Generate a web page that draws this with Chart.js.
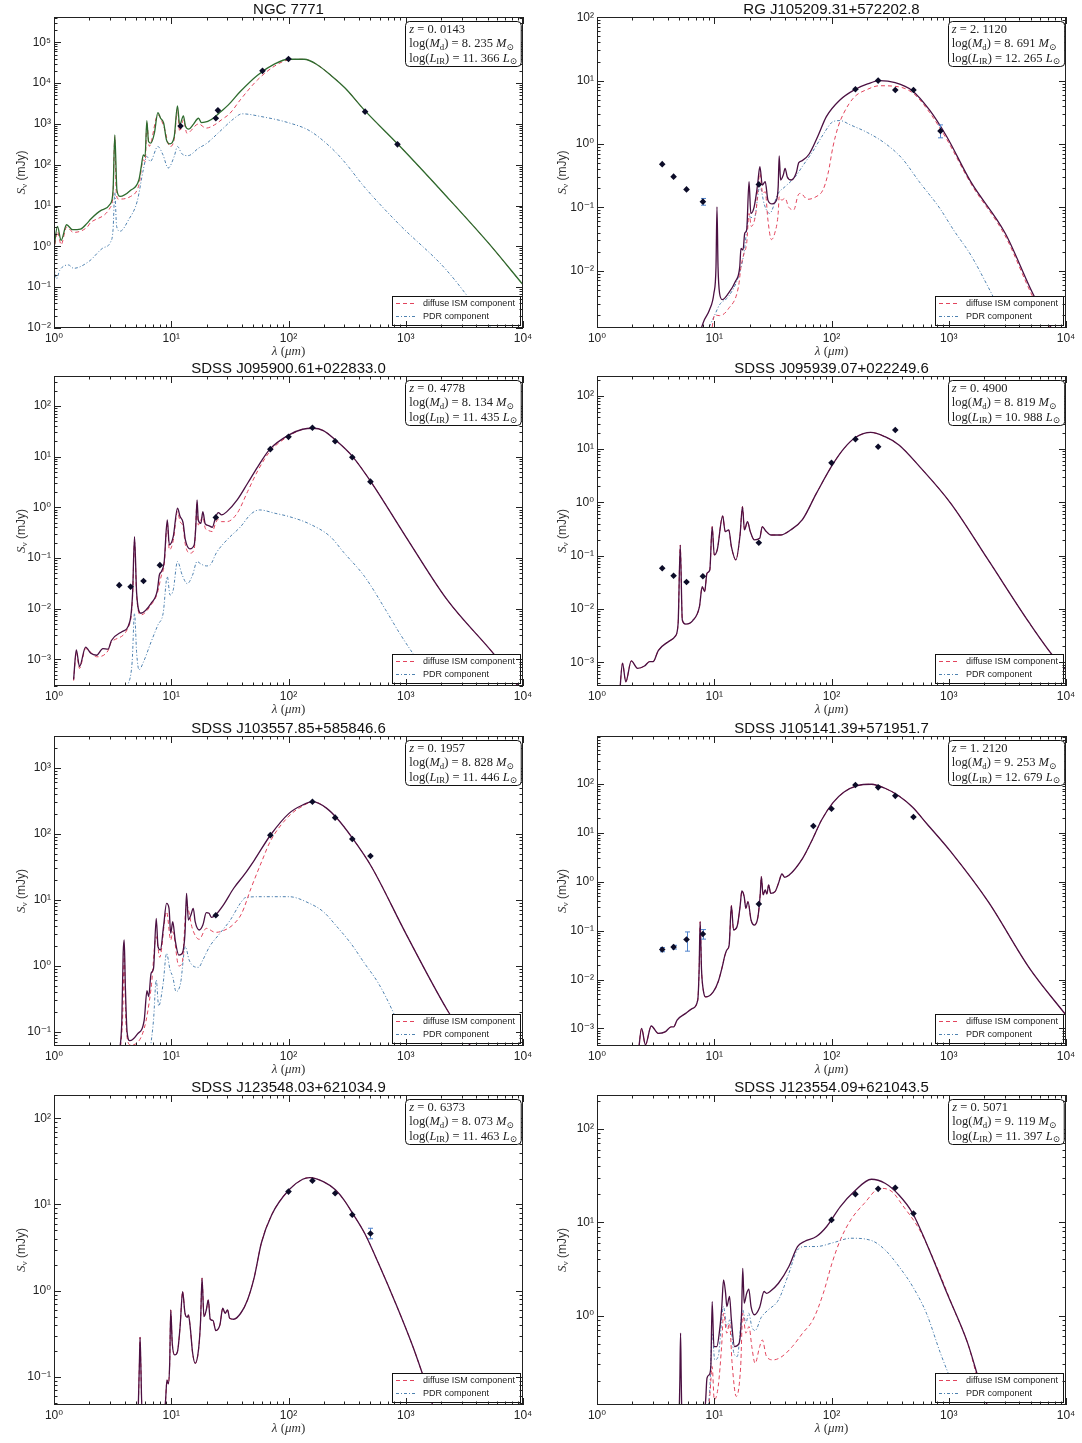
<!DOCTYPE html>
<html>
<head>
<meta charset="utf-8">
<script src="https://cdn.jsdelivr.net/npm/chart.js@4.4.1/dist/chart.umd.min.js"></script>
<style>
  body { margin: 0; background: #fff; width: 1082px; height: 1443px; position: relative; overflow: hidden; }
  canvas { position: absolute; }
</style>
</head>
<body>
<script>
// ---- data: [wavelength (um), flux (mJy)] ----
const p1Total = [[1.0,0.91],[1.07,3.08],[1.15,1.40],[1.28,3.39],[1.44,2.56],[1.68,2.65],[1.92,3.72],[2.06,4.67],[2.52,7.6],[3.03,11.1],[3.19,24],[3.30,540],[3.44,24],[3.66,16.7],[4.48,23.4],[5.30,42.8],[5.56,94],[5.78,175],[5.98,159],[6.19,1210],[6.40,371],[6.71,338],[7.18,593],[7.69,1900],[8.11,1380],[8.62,1040],[9.10,407],[9.73,325],[10.6,490],[11.3,2770],[11.8,948],[12.7,1570],[13.2,897],[14.1,743],[15.3,948],[17.1,1380],[18.1,1080],[20.5,1150],[23.4,1460],[25.9,1900],[30.7,2930],[38.8,6210],[54.4,15600],[76.3,29500],[100,38400],[136,38400],[177,27900],[233,15000],[305,7480],[442,2210],[867,308],[2230,16.7],[5020,1.25],[10000,0.115]];
const p1Ism = [[1.0,0.76],[1.07,2.3],[1.15,1.1],[1.28,2.97],[1.47,2.2],[1.92,2.97],[2.06,3.9],[3.03,9.1],[3.19,20],[3.30,490],[3.40,20],[3.54,14.4],[4.48,16.6],[5.30,32],[5.78,132],[6.00,120],[6.19,1040],[6.49,283],[7.69,1660],[8.62,890],[9.73,280],[10.6,420],[11.3,2290],[11.8,650],[12.7,1260],[13.6,590],[17.1,1000],[19.8,790],[23.4,950],[26.8,1260],[31.7,1820],[38.8,3890],[54.4,12000],[76.3,26300],[100,37000],[136,38400],[177,27900],[233,15000],[305,7480],[442,2210],[867,308],[2230,16.7],[5020,1.25],[10000,0.115]];
const p1Pdr = [[1.0,0.32],[1.05,0.16],[1.12,0.26],[1.33,0.35],[1.47,0.29],[1.99,0.43],[2.61,0.91],[3.03,1.26],[3.19,2.6],[3.30,21],[3.42,3.1],[3.66,2.35],[4.33,4.5],[5.12,12.6],[5.78,76],[6.19,160],[6.62,120],[7.69,280],[8.5,175],[9.41,83],[10.6,160],[11.3,280],[12.3,187],[13.9,167],[17.1,255],[19.8,325],[25.9,650],[33.9,1320],[40.2,1770],[58.2,1520],[100,1070],[150,690],[225,280],[294,126],[442,29],[867,3.6],[2230,0.26],[5370,0.01]];
const p1Obs = [[12,890],[24,1380],[25,2150],[60,20000],[100,39000],[450,2000],[850,316]];
const p1Err = [];

const p2Total = [[7.33,9.1e-4],[8.22,1.66e-3],[9.1,2.4e-3],[9.93,4.4e-3],[10.35,0.0115],[10.55,0.102],[10.77,0.0115],[11.1,4.4e-3],[11.7,3.5e-3],[13.2,4.4e-3],[15.1,6.7e-3],[16.5,0.0115],[16.9,0.0224],[17.6,0.0213],[18.2,0.039],[18.9,0.044],[19.8,0.254],[20.5,0.08],[21.9,0.102],[23.4,0.225],[24.5,0.44],[25.7,0.225],[27.2,0.254],[28.7,0.13],[31.1,0.113],[34,0.13],[35.1,0.212],[35.8,0.646],[36.8,0.27],[38.8,0.324],[40.2,0.413],[41.9,0.305],[45.4,0.27],[49.9,0.344],[52.6,0.507],[56.3,0.546],[64.5,0.695],[76.3,1.31],[90.4,2.7],[118,4.95],[160,7.3],[203,8.85],[257,10],[349,9.3],[489,6.95],[685,3.44],[960,1.31],[1540,0.254],[3030,0.039],[5200,4.4e-3],[7530,1.23e-3],[8900,8.5e-4]];
const p2Ism = [[9.4,1.0e-3],[10.1,2.0e-3],[11.1,1.95e-3],[13.2,2.5e-3],[16.1,5.6e-3],[16.9,0.0115],[17.9,0.0186],[18.9,0.027],[19.8,0.08],[20.7,0.05],[22.6,0.08],[24.5,0.344],[25.9,0.166],[27.2,0.177],[28.7,0.063],[30.7,0.031],[32.8,0.039],[35.1,0.08],[35.8,0.147],[37.6,0.13],[40.2,0.139],[43,0.102],[47.6,0.091],[52,0.157],[54.5,0.166],[62.3,0.134],[73.8,0.147],[84.5,0.188],[93.5,0.344],[103,0.91],[114,1.88],[127,3.05],[155,5.4],[203,7.3],[257,8.3],[373,8.0],[506,6.15],[685,3.16],[960,1.19],[1540,0.239],[3030,0.0354],[5200,3.9e-3],[7530,1.15e-3]];
const p2Pdr = [[8.5,1.0e-3],[10.1,2.0e-3],[11.1,2.9e-3],[13.2,3.9e-3],[16.1,8.1e-3],[17.9,0.0186],[19.8,0.071],[21.9,0.067],[24.5,0.212],[26.8,0.109],[29.6,0.08],[35.1,0.166],[40.2,0.212],[49.2,0.305],[56.3,0.44],[69,0.757],[84.5,1.39],[103,2.25],[118,2.34],[145,2.0],[203,1.51],[285,1.03],[399,0.594],[560,0.254],[839,0.0964],[1100,0.0438],[1540,0.0177],[2160,5.6e-3],[2640,2.7e-3]];
const p2Obs = [[3.6,0.48],[4.5,0.305],[5.8,0.192],[8.0,0.123],[24,0.23],[160,7.3],[250,10],[350,7.1],[500,7.1],[850,1.6]];
const p2Err = [[8.0,0.108,0.138],[850,1.25,2.0]];

const p3Total = [[1.47,4.0e-4],[1.55,1.53e-3],[1.65,7.2e-4],[1.86,1.73e-3],[2.06,1.31e-3],[2.31,1.2e-3],[2.61,1.62e-3],[2.89,1.58e-3],[3.09,2.35e-3],[3.79,3.5e-3],[4.43,5.5e-3],[4.68,0.02],[4.86,0.264],[5.07,0.02],[5.5,8.1e-3],[6.73,0.0127],[7.6,0.0226],[7.92,0.046],[8.25,0.054],[8.71,0.085],[9.25,0.56],[9.63,0.181],[10.4,0.264],[11.3,0.955],[11.9,0.655],[12.6,0.5],[13.2,0.226],[14.4,0.151],[15.7,0.181],[16.2,0.415],[16.6,1.4],[17.0,0.56],[17.9,0.483],[18.6,0.82],[19.5,0.469],[20.8,0.435],[22.4,0.403],[24.0,0.655],[25.2,0.785],[26.9,0.706],[29.8,0.82],[36.5,1.4],[44.8,2.98],[54.8,6.35],[69.4,14],[101,26.8],[132,34.6],[162,36.2],[198,32.6],[251,21.3],[352,10],[510,3.07],[1000,0.264],[2260,0.0148],[5820,1.16e-3],[10000,2.2e-4]];
const p3Ism = [[1.47,3.8e-4],[1.55,1.35e-3],[1.65,6.6e-4],[1.86,1.62e-3],[2.31,1.12e-3],[2.89,1.48e-3],[3.09,2.2e-3],[4.43,5.1e-3],[4.68,0.017],[4.86,0.21],[5.07,0.0174],[5.5,7.5e-3],[6.73,0.0118],[7.6,0.02],[8.25,0.046],[8.71,0.073],[9.25,0.483],[9.63,0.144],[10.4,0.22],[11.3,0.82],[11.9,0.52],[12.6,0.415],[13.2,0.181],[14.4,0.124],[15.7,0.148],[16.6,1.16],[17.0,0.448],[18.6,0.655],[19.5,0.385],[20.8,0.347],[22.4,0.331],[24.0,0.5],[25.2,0.58],[26.9,0.52],[29.8,0.52],[36.5,0.76],[44.8,2.04],[54.8,5.3],[69.4,12.6],[101,25.6],[132,34.6],[162,36.2],[198,32.6],[251,21.3],[352,10],[510,3.07],[1000,0.264],[2260,0.0148],[5820,1.16e-3],[10000,2.2e-4]];
const p3Pdr = [[4.2,2.7e-4],[4.64,8.9e-4],[4.86,8.1e-3],[5.07,1.32e-3],[5.31,6.2e-4],[5.8,8.9e-4],[6.73,2.2e-3],[7.71,4.8e-3],[8.53,8.1e-3],[9.25,0.043],[9.77,0.0185],[10.4,0.0234],[11.3,0.085],[12.4,0.046],[13.7,0.031],[15.2,0.046],[16.6,0.085],[17.9,0.076],[19.9,0.0695],[21.5,0.0728],[24.3,0.127],[29.8,0.226],[39.1,0.415],[47.9,0.738],[56.6,0.885],[76.8,0.76],[101,0.655],[151,0.469],[227,0.264],[297,0.127],[446,0.0428],[669,9.7e-3],[877,3.4e-3],[1150,1.31e-3],[1360,7.8e-4]];
const p3Obs = [[3.6,0.029],[4.5,0.027],[5.8,0.035],[8.0,0.072],[24,0.63],[70,14],[100,24.5],[160,37],[250,20],[350,9.7],[500,3.2]];
const p3Err = [];

const p4Total = [[1.56,2.6e-4],[1.65,9.6e-4],[1.76,4.3e-4],[1.96,1.06e-3],[2.22,7.7e-4],[2.54,8.5e-4],[2.81,1.03e-3],[3.01,1.03e-3],[3.33,1.66e-3],[4.07,2.44e-3],[4.66,3.1e-3],[4.92,5.4e-3],[5.13,0.158],[5.34,6.2e-3],[5.71,5.2e-3],[6.53,6.0e-3],[7.48,0.0111],[7.89,0.0262],[8.28,0.0211],[8.67,0.0467],[9.16,0.0538],[9.6,0.35],[10.0,0.103],[10.6,0.128],[11.8,0.555],[12.4,0.282],[13.3,0.303],[14.0,0.148],[15.3,0.083],[16.6,0.244],[17.4,0.83],[18.1,0.303],[19.2,0.434],[20.3,0.282],[22.0,0.197],[24.4,0.211],[25.7,0.35],[27.4,0.294],[30.5,0.244],[36.6,0.244],[44.8,0.303],[56.7,0.48],[74.3,1.47],[103,5.24],[128,10.3],[161,16.6],[216,20.5],[286,17],[376,11.9],[564,4.67],[1040,0.957],[2170,0.083],[4890,5.4e-3],[7840,1.28e-3],[10000,7.2e-4]];
const p4Obs = [[3.6,0.058],[4.5,0.042],[5.8,0.032],[8.0,0.041],[24,0.174],[100,5.5],[160,15.3],[250,11],[350,22.7]];
const p4Err = [];

const p5Total = [[3.61,0.047],[3.79,0.15],[3.89,1.54],[3.97,2.45],[4.06,0.48],[4.2,0.1],[4.43,0.073],[5.14,0.092],[5.88,0.15],[6.21,0.418],[6.42,0.339],[6.73,0.766],[7.06,0.912],[7.45,5.2],[7.71,1.94],[8.08,1.73],[8.59,3.9],[9.12,8.8],[9.57,7.4],[9.9,3.09],[10.3,4.64],[10.8,2.45],[11.6,1.45],[12.4,1.54],[13.1,3.09],[13.5,12.5],[14.0,4.92],[14.7,5.86],[15.4,7.4],[16.0,4.64],[17.3,3.47],[18.6,4.13],[19.9,6.35],[21.0,6.21],[22.0,5.4],[23.8,5.86],[27.8,8.3],[34.1,14.9],[41.8,23.7],[51.2,39.9],[70.3,95.5],[101,203],[132,272],[162,305],[212,242],[259,171],[352,85],[510,31.6],[1000,3.09],[2260,0.213],[3750,0.053]];
const p5Ism = [[3.66,0.047],[3.86,0.19],[3.97,1.54],[4.08,0.19],[4.25,0.073],[4.49,0.063],[5.88,0.112],[6.73,0.454],[7.45,2.75],[7.97,1.34],[9.12,6.58],[9.9,2.45],[10.3,3.27],[11.6,0.99],[12.4,1.11],[13.5,8.3],[15.2,3.56],[17.3,2.51],[19.9,3.68],[23.8,3.2],[27.8,3.39],[34.1,4.27],[39.9,6.21],[47.9,14.9],[59.8,39.9],[70.3,78],[101,185],[132,262],[162,305],[212,242],[259,171],[352,85],[510,31.6],[1000,3.09],[2260,0.213],[3750,0.053]];
const p5Pdr = [[6.64,0.056],[7.06,0.15],[7.45,0.607],[7.81,0.245],[8.53,0.54],[9.12,1.54],[9.77,0.86],[10.3,0.68],[11.0,0.404],[12.0,0.54],[13.2,1.94],[14.2,1.22],[15.7,0.966],[17.1,0.944],[18.6,1.22],[21.2,1.94],[26.0,3.09],[31.9,4.92],[39.1,9.0],[43.2,10.8],[58.6,11.1],[101,11.1],[151,8.8],[198,6.58],[259,3.9],[340,2.18],[446,1.08],[585,0.54],[766,0.213],[906,0.106]];
const p5Obs = [[24,5.8],[70,95],[160,305],[250,175],[350,83],[500,46]];
const p5Err = [];

const p6Total = [[2.25,3.1e-4],[2.4,1.0e-3],[2.59,4.6e-4],[2.9,1.12e-3],[3.33,7.9e-4],[3.81,8.5e-4],[4.3,1.08e-3],[4.51,1.08e-3],[4.82,1.48e-3],[5.71,2.03e-3],[6.53,2.57e-3],[7.23,3.8e-3],[7.43,0.0156],[7.58,0.152],[7.79,0.0156],[8.11,5.6e-3],[8.45,4.4e-3],[9.8,5.6e-3],[10.8,9.0e-3],[11.8,0.0198],[12.2,0.0284],[12.8,0.0401],[13.4,0.0507],[14.0,0.324],[14.6,0.103],[15.7,0.124],[16.6,0.309],[17.2,0.646],[18.0,0.494],[18.6,0.286],[19.4,0.391],[20.6,0.165],[22.0,0.13],[23.6,0.193],[24.7,0.58],[25.2,1.27],[26.1,0.536],[27.2,0.678],[28.1,0.561],[29.1,0.857],[30.3,0.58],[33.0,0.627],[35.3,0.927],[37.8,1.44],[39.9,1.23],[43.3,1.35],[56.7,3.0],[69.5,7.73],[82.3,18.3],[103,41.5],[128,68.6],[167,92.5],[219,98.4],[286,81.5],[376,56.8],[492,33.4],[645,15.7],[1040,4.12],[2170,0.391],[4890,0.0169],[10000,1.87e-3]];
const p6Obs = [[3.6,0.041],[4.5,0.046],[5.8,0.066],[8.0,0.085],[24,0.35],[70,13.8],[100,31],[160,95],[250,85],[350,57],[500,21]];
const p6Err = [[3.6,0.037,0.045],[4.5,0.042,0.050],[5.8,0.038,0.094],[8.0,0.067,0.105]];

const p7Total = [[5.21,0.035],[5.35,0.144],[5.42,0.288],[5.5,0.144],[5.65,0.035],[8.71,0.035],[8.95,0.0542],[9.19,0.0925],[9.44,0.083],[9.7,0.144],[9.9,0.598],[10.2,0.246],[10.7,0.18],[11.3,0.197],[11.9,0.384],[12.5,0.977],[13.1,0.548],[13.7,0.492],[14.0,0.524],[14.5,0.384],[15.2,0.192],[16.0,0.144],[17.1,0.21],[17.8,0.458],[18.3,1.4],[19.0,0.501],[19.9,0.598],[20.7,0.782],[21.5,0.467],[22.7,0.451],[24.0,0.345],[26.0,0.401],[27.5,0.626],[28.8,0.548],[30.2,0.598],[31.5,0.48],[34.1,0.467],[39.1,0.548],[44.7,0.782],[51.2,1.46],[58.6,3.55],[71.8,7.57],[101,14.8],[132,19.6],[151,20.5],[198,18.4],[251,14.8],[297,11.3],[352,7.9],[446,4.63],[585,2.08],[819,0.716],[1150,0.225],[1510,0.0773],[1750,0.0415]];
const p7Obs = [[100,14.1],[160,18.9],[250,13.5],[350,7.6],[500,4.6]];
const p7Err = [[500,4.0,5.3]];

const p8Total = [[5.02,0.083],[5.09,0.205],[5.16,0.647],[5.23,0.205],[5.3,0.083],[8.17,0.083],[8.45,0.125],[8.67,0.213],[9.03,0.231],[9.35,0.284],[9.6,1.41],[9.93,0.465],[10.5,0.465],[11.2,0.762],[11.6,1.25],[12.0,2.41],[12.5,1.73],[12.8,1.25],[13.5,1.6],[14.0,0.9],[14.9,0.465],[16.3,0.506],[17.1,1.06],[17.5,3.21],[18.0,1.36],[18.9,1.73],[19.7,1.92],[20.6,1.25],[22.0,1.02],[24.4,1.23],[26.6,1.81],[27.9,1.73],[29.9,1.81],[35.3,2.22],[43.3,3.35],[51.3,5.49],[58.7,6.21],[74.3,7.02],[91.0,9.0],[119,14.7],[156,21.3],[219,28.9],[286,26.2],[376,19.6],[492,12.5],[645,5.96],[967,1.73],[1450,0.506],[1900,0.166],[2170,0.102]];
const p8Ism = [[8.79,0.083],[9.16,0.136],[9.6,0.284],[10.0,0.125],[10.8,0.173],[11.6,0.506],[12.0,1.06],[12.8,0.647],[13.5,0.828],[14.2,0.308],[15.4,0.136],[16.8,0.284],[17.5,1.06],[18.6,0.647],[19.8,0.762],[20.9,0.465],[22.3,0.308],[24.4,0.465],[25.7,0.548],[27.9,0.364],[31.9,0.335],[37.8,0.364],[46.3,0.465],[56.7,0.647],[69.5,0.9],[85.1,1.73],[101,3.64],[119,6.47],[146,10.6],[191,16],[259,23.1],[328,21.3],[402,15.3],[564,8.28],[789,3.35],[1110,1.15],[1450,0.506],[1900,0.153],[2250,0.0935]];
const p8Pdr = [[8.45,0.083],[9.16,0.16],[9.6,0.647],[10.1,0.335],[10.8,0.364],[12.0,1.25],[12.8,0.762],[13.6,0.9],[14.7,0.395],[15.7,0.364],[17.5,1.15],[18.6,0.828],[19.7,1.06],[20.9,0.762],[22.3,0.69],[25.2,0.96],[28.9,1.15],[35.3,1.47],[43.3,2.84],[51.3,5.06],[60.7,5.49],[74.3,5.49],[104,6.05],[146,6.74],[219,6.37],[286,5.06],[376,3.35],[492,2.05],[645,1.06],[845,0.402],[1040,0.205],[1150,0.147]];
const p8Obs = [[100,10.6],[160,20],[250,22.8],[350,23.4],[500,12.4]];
const p8Err = [];

const titles = ['NGC 7771', 'RG J105209.31+572202.8', 'SDSS J095900.61+022833.0', 'SDSS J095939.07+022249.6',
  'SDSS J103557.85+585846.6', 'SDSS J105141.39+571951.7', 'SDSS J123548.03+621034.9', 'SDSS J123554.09+621043.5'];
const redshifts = ['0.0143', '2.1120', '0.4778', '0.4900', '0.1957', '1.2120', '0.6373', '0.5071'];
const dustMass = ['8.235', '8.691', '8.134', '8.819', '8.828', '9.253', '8.073', '9.119'];
const irLum = ['11.366', '12.265', '11.435', '10.988', '11.446', '12.679', '11.463', '11.397'];
const yMin = [1e-2, 1.245e-3, 2.97e-4, 3.59e-4, 0.0607, 4.37e-4, 0.0473, 0.110];
const yMax = [4.17e5, 101, 389, 234, 3020, 955, 186, 231];
const legendLabels = ['diffuse ISM component', 'PDR component'];

const totals = [p1Total, p2Total, p3Total, p4Total, p5Total, p6Total, p7Total, p8Total];
const isms = [p1Ism, p2Ism, p3Ism, p4Total, p5Ism, p6Total, p7Total, p8Ism];
const pdrs = [p1Pdr, p2Pdr, p3Pdr, null, p5Pdr, null, null, p8Pdr];
const obs = [p1Obs, p2Obs, p3Obs, p4Obs, p5Obs, p6Obs, p7Obs, p8Obs];
const errs = [p1Err, p2Err, p3Err, p4Err, p5Err, p6Err, p7Err, p8Err];

// ---- layout ----
const W = 541;
const rowH = [359, 359, 359, 366];
const rowTop = [0, 359, 718, 1077];
const plotTop = [17, 17, 18, 18];
const plotBottom = [328, 327, 328, 328];
const plotLeft = [54, 56];
const plotRight = [523, 525];

const RED = '#e2445c', BLUE = '#4f82b0', PT = '#0c0c28', ERR = '#4f83cc';
const SANS = '"Liberation Sans", "DejaVu Sans", Arial, sans-serif';
const SERIF = '"Liberation Serif", "DejaVu Serif", serif';

const SUP = {'-': '⁻', '0': '⁰', '1': '¹', '2': '²', '3': '³', '4': '⁴', '5': '⁵', '6': '⁶', '7': '⁷', '8': '⁸', '9': '⁹'};
function decadeLabel(v) {
  const e = Math.log10(v);
  if (Math.abs(e - Math.round(e)) > 1e-6) return '';
  return '10' + String(Math.round(e)).split('').map(ch => SUP[ch]).join('');
}
const xy = arr => arr.map(([x, y]) => ({x, y}));

function drawRich(ctx, x, y, parts, size) {
  for (const [t, s] of parts) {
    let fs = size, dy = 0, st = '';
    if (s === 'i') st = 'italic ';
    if (s === 's') { fs = size * 0.7; dy = size * 0.22; }
    ctx.font = `${st}${fs}px ${SERIF}`;
    ctx.fillText(t, x, y + dy);
    x += ctx.measureText(t).width;
  }
  return x;
}
function richWidth(ctx, parts, size) {
  let w = 0;
  for (const [t, s] of parts) {
    const fs = s === 's' ? size * 0.7 : size;
    ctx.font = `${s === 'i' ? 'italic ' : ''}${fs}px ${SERIF}`;
    w += ctx.measureText(t).width;
  }
  return w;
}

function sedPlugin(i) {
  return {
    id: 'sed' + i,
    beforeDatasetDraw(chart, args) {
      if (args.index !== 0 || !errs[i].length) return;
      const ctx = chart.ctx, xs = chart.scales.x, ys = chart.scales.y;
      ctx.save();
      ctx.strokeStyle = ERR;
      ctx.lineWidth = 1;
      errs[i].forEach(([l, lo, hi]) => {
        const px = Math.round(xs.getPixelForValue(l)) + 0.5;
        const y1 = ys.getPixelForValue(lo), y2 = ys.getPixelForValue(hi);
        ctx.beginPath();
        ctx.moveTo(px, y1); ctx.lineTo(px, y2);
        ctx.moveTo(px - 2.5, y1); ctx.lineTo(px + 2.5, y1);
        ctx.moveTo(px - 2.5, y2); ctx.lineTo(px + 2.5, y2);
        ctx.stroke();
      });
      ctx.restore();
    },
    afterDraw(chart) {
      const ctx = chart.ctx, a = chart.chartArea, xs = chart.scales.x, ys = chart.scales.y;
      ctx.save();

      // legend box (bottom right)
      ctx.font = `9px ${SANS}`;
      const textW = Math.max(...legendLabels.map(t => ctx.measureText(t).width));
      const lw = Math.round(31 + textW + 5), lh = 29;
      const lx = Math.round(a.right - 3 - lw), ly = Math.round(a.bottom - 32);
      ctx.fillStyle = '#fff';
      ctx.fillRect(lx, ly, lw, lh);
      ctx.strokeStyle = '#111';
      ctx.lineWidth = 1;
      ctx.strokeRect(lx + 0.5, ly + 0.5, lw, lh);
      const rows = [[RED, [4, 3]], [BLUE, [3, 2, 1, 2]]];
      rows.forEach(([col, dash], k) => {
        const yy = ly + 7.5 + k * 13;
        ctx.strokeStyle = col;
        ctx.lineWidth = 1.1;
        ctx.setLineDash(dash);
        ctx.beginPath(); ctx.moveTo(lx + 4, yy); ctx.lineTo(lx + 25, yy); ctx.stroke();
        ctx.setLineDash([]);
        ctx.fillStyle = '#222';
        ctx.font = `9px ${SANS}`;
        ctx.textBaseline = 'middle';
        ctx.fillText(legendLabels[k], lx + 31, yy);
      });

      // frame and inward ticks on all four sides
      ctx.strokeStyle = '#222';
      ctx.lineWidth = 1;
      ctx.strokeRect(Math.round(a.left) + 0.5, Math.round(a.top) + 0.5, Math.round(a.right - a.left) - 1, Math.round(a.bottom - a.top) - 1);
      const tickVals = (mn, mx) => {
        const out = [];
        for (let d = Math.floor(Math.log10(mn)); d <= Math.ceil(Math.log10(mx)); d++) {
          for (let m = 1; m <= 9; m++) {
            const v = m * Math.pow(10, d);
            if (v >= mn * 0.9999 && v <= mx * 1.0001) out.push([v, m === 1]);
          }
        }
        return out;
      };
      ctx.beginPath();
      tickVals(xs.min, xs.max).forEach(([v, major]) => {
        const px = Math.round(xs.getPixelForValue(v)) + 0.5, L = major ? 7 : 3.5;
        ctx.moveTo(px, a.bottom); ctx.lineTo(px, a.bottom - L);
        ctx.moveTo(px, a.top); ctx.lineTo(px, a.top + L);
      });
      tickVals(ys.min, ys.max).forEach(([v, major]) => {
        const py = Math.round(ys.getPixelForValue(v)) + 0.5, L = major ? 7 : 3.5;
        ctx.moveTo(a.left, py); ctx.lineTo(a.left + L, py);
        ctx.moveTo(a.right, py); ctx.lineTo(a.right - L, py);
      });
      ctx.stroke();

      // info box (top right)
      const fs = 12.5;
      const lines = [
        [['z', 'i'], [' = ', 'r'], [redshifts[i].replace('.', '. '), 'r']],
        [['log(', 'r'], ['M', 'i'], ['d', 's'], [') = ', 'r'], [dustMass[i].replace('.', '. '), 'r'], [' ', 'r'], ['M', 'i'], ['⊙', 's']],
        [['log(', 'r'], ['L', 'i'], ['IR', 's'], [') = ', 'r'], [irLum[i].replace('.', '. '), 'r'], [' ', 'r'], ['L', 'i'], ['⊙', 's']]
      ];
      const tw = Math.max(...lines.map(l => richWidth(ctx, l, fs)));
      const bw = tw + 8, bh = 45, bx = a.right - 2 - bw, by = a.top + 4;
      ctx.beginPath();
      ctx.roundRect(Math.round(bx) + 0.5, by + 0.5, bw, bh, 4);
      ctx.fillStyle = '#fff';
      ctx.fill();
      ctx.strokeStyle = '#111';
      ctx.stroke();
      ctx.fillStyle = '#222';
      ctx.textBaseline = 'alphabetic';
      lines.forEach((l, k) => drawRich(ctx, bx + 4, by + 12 + k * 14.3, l, fs));

      // title
      ctx.fillStyle = '#111';
      ctx.font = `15px ${SANS}`;
      ctx.textAlign = 'center';
      ctx.fillText(titles[i], (a.left + a.right) / 2, a.top - 3);

      // x axis title
      const xt = [['λ', 'i'], [' (', 'r'], ['μm', 'i'], [')', 'r']];
      const xw = richWidth(ctx, xt, 13);
      ctx.textAlign = 'left';
      ctx.fillStyle = '#333';
      drawRich(ctx, (a.left + a.right) / 2 - xw / 2, a.bottom + 27, xt, 13);

      // y axis title
      ctx.translate(22, (a.top + a.bottom) / 2);
      ctx.rotate(-Math.PI / 2);
      ctx.textBaseline = 'middle';
      const tail = ' (mJy)';
      const sw = richWidth(ctx, [['S', 'i'], ['ν', 's']], 13);
      ctx.font = `12px ${SANS}`;
      const total = sw + ctx.measureText(tail).width;
      const xx = drawRich(ctx, -total / 2, 0, [['S', 'i'], ['ν', 's']], 13);
      ctx.font = `12px ${SANS}`;
      ctx.fillText(tail, xx, 0);
      ctx.restore();
    }
  };
}

for (let i = 0; i < 8; i++) {
  const r = Math.floor(i / 2), c = i % 2;
  const cv = document.createElement('canvas');
  cv.width = W;
  cv.height = rowH[r];
  cv.style.left = (c * W) + 'px';
  cv.style.top = rowTop[r] + 'px';
  document.body.appendChild(cv);

  const curve = {showLine: true, pointRadius: 0, cubicInterpolationMode: 'monotone'};
  const datasets = [
    {label: 'data', data: xy(obs[i]), showLine: false, pointStyle: 'rectRot', pointRadius: 3.3,
     backgroundColor: PT, borderColor: PT, borderWidth: 0},
    {...curve, label: 'total', data: xy(totals[i]),
     borderColor: i === 0 ? '#2e6b2e' : '#4b1042', borderWidth: 1.3},
    {...curve, label: legendLabels[0], data: xy(isms[i]),
     borderColor: RED, borderWidth: 1, borderDash: [4, 3]}
  ];
  if (pdrs[i]) {
    datasets.push({...curve, label: legendLabels[1], data: xy(pdrs[i]),
      borderColor: BLUE, borderWidth: 1, borderDash: [3, 2, 1, 2]});
  }

  new Chart(cv, {
    type: 'scatter',
    data: {datasets},
    options: {
      responsive: false,
      animation: false,
      events: [],
      layout: {padding: {top: plotTop[r], right: W - plotRight[c], left: 0, bottom: 0}},
      plugins: {legend: {display: false}, tooltip: {enabled: false}},
      scales: {
        x: {
          type: 'logarithmic', min: 1, max: 1e4,
          grid: {display: false, drawTicks: false},
          border: {display: false},
          ticks: {autoSkip: false, maxRotation: 0, padding: 3, color: '#222',
                  font: {family: SANS, size: 12}, callback: v => decadeLabel(v)},
          afterFit: s => { s.height = rowH[r] - plotBottom[r]; }
        },
        y: {
          type: 'logarithmic', min: yMin[i], max: yMax[i],
          grid: {display: false, drawTicks: false},
          border: {display: false},
          ticks: {autoSkip: false, padding: 3, color: '#222',
                  font: {family: SANS, size: 12}, callback: v => decadeLabel(v)},
          afterFit: s => { s.width = plotLeft[c]; }
        }
      }
    },
    plugins: [sedPlugin(i)]
  });
}
</script>
</body>
</html>
